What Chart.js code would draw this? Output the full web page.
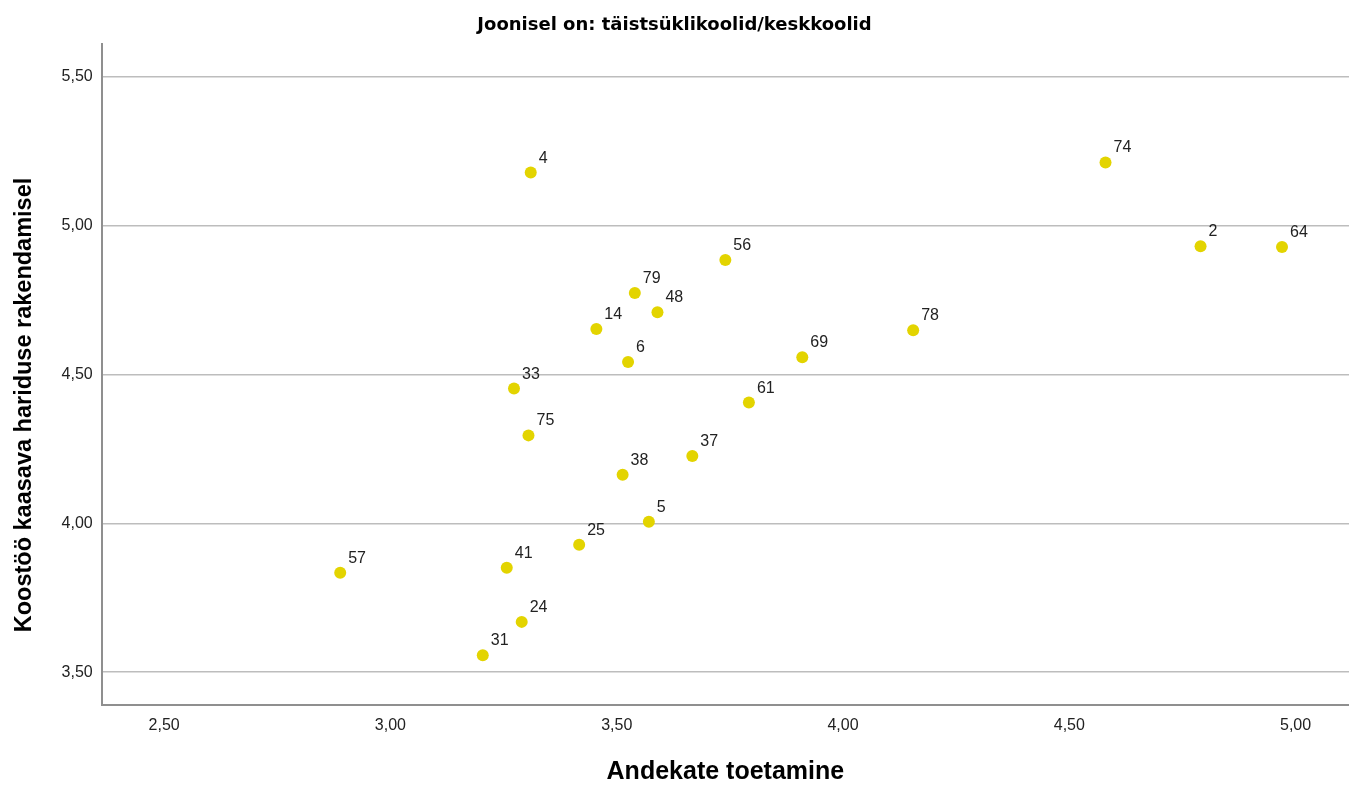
<!DOCTYPE html>
<html>
<head>
<meta charset="utf-8">
<script src="https://cdn.jsdelivr.net/npm/chart.js@4.4.0/dist/chart.umd.min.js"></script>
<style>
  html, body { margin: 0; padding: 0; background: #fff; }
  #wrap { width: 1349px; height: 786px; position: relative; }
</style>
</head>
<body>
<div id="wrap"><canvas id="scatter"></canvas></div>
<script>
// texts
const chartTitle = 'Joonisel on: täistsüklikoolid/keskkoolid';
const xTitle = 'Andekate toetamine';
const yTitle = 'Koostöö kaasava hariduse rakendamisel';

// one entry per school
const schoolIds = [4, 74, 2, 64, 56, 79, 48, 14, 78, 6, 69, 33, 61, 75, 37, 38, 5, 25, 57, 41, 24, 31];
const andekate  = [3.31, 4.58, 4.79, 4.97, 3.74, 3.54, 3.59, 3.455, 4.155, 3.525, 3.91, 3.273, 3.792, 3.305, 3.667, 3.513, 3.571, 3.417, 2.889, 3.257, 3.29, 3.204];
const koostoo   = [5.177, 5.211, 4.93, 4.927, 4.884, 4.773, 4.708, 4.652, 4.648, 4.541, 4.557, 4.452, 4.405, 4.295, 4.226, 4.163, 4.005, 3.928, 3.834, 3.851, 3.669, 3.557];

// axes
const xTicks = [2.5, 3, 3.5, 4, 4.5, 5];
const yTicks = [3.5, 4, 4.5, 5, 5.5];
const xRange = [2.362, 5.118];
const yRange = [3.39, 5.61];

const pointColor = '#e3d400';
const labelFont = '"Liberation Sans", Arial, sans-serif';

const fmt = v => Number(v).toFixed(2).replace('.', ',');

// school number next to each dot
const pointLabels = {
  id: 'pointLabels',
  afterDatasetsDraw(chart) {
    const ctx = chart.ctx;
    const meta = chart.getDatasetMeta(0);
    ctx.save();
    ctx.font = '16px ' + labelFont;
    ctx.fillStyle = '#222';
    ctx.textAlign = 'left';
    ctx.textBaseline = 'alphabetic';
    meta.data.forEach((pt, i) => {
      ctx.fillText(String(schoolIds[i]), pt.x + 8, pt.y - 10);
    });
    ctx.restore();
  }
};

// vertical axis title, sits a bit lower than the plot centre
const yAxisTitle = {
  id: 'yAxisTitle',
  afterDraw(chart) {
    const ctx = chart.ctx;
    ctx.save();
    ctx.translate(25, 405);
    ctx.rotate(-Math.PI / 2);
    ctx.font = 'bold 23.5px ' + labelFont;
    ctx.fillStyle = '#000';
    ctx.textAlign = 'center';
    ctx.textBaseline = 'middle';
    ctx.fillText(yTitle, 0, 0);
    ctx.restore();
  }
};

const ctx = document.getElementById('scatter');
window.myScatter = new Chart(ctx, {
  type: 'scatter',
  data: {
    datasets: [{
      data: schoolIds.map((id, i) => ({ x: andekate[i], y: koostoo[i] })),
      backgroundColor: pointColor,
      borderWidth: 0,
      pointRadius: 6,
      pointHoverRadius: 6
    }]
  },
  options: {
    responsive: true,
    maintainAspectRatio: false,
    animation: false,
    events: [],
    layout: { padding: 0, autoPadding: false },
    plugins: {
      legend: { display: false },
      tooltip: { enabled: false },
      title: {
        display: true,
        text: chartTitle,
        color: '#000',
        font: { family: '"DejaVu Sans", sans-serif', size: 18, weight: 'bold', lineHeight: 1.2 },
        padding: { top: 15, bottom: 7 }
      }
    },
    scales: {
      x: {
        type: 'linear',
        min: xRange[0],
        max: xRange[1],
        afterBuildTicks: s => { s.ticks = xTicks.map(v => ({ value: v })); },
        afterFit: s => { s.height = 81; s.paddingLeft = 0; s.paddingRight = 0; },
        grid: { display: false, drawTicks: false },
        border: { display: true, color: '#8f8f8f', width: 2 },
        ticks: { padding: 11, color: '#222', font: { family: labelFont, size: 16 }, callback: v => fmt(v) },
        title: {
          display: true,
          text: xTitle,
          color: '#000',
          font: { family: labelFont, size: 25, weight: 'bold', lineHeight: 1 },
          padding: { top: 0, bottom: 1 }
        }
      },
      y: {
        type: 'linear',
        min: yRange[0],
        max: yRange[1],
        afterBuildTicks: s => { s.ticks = yTicks.map(v => ({ value: v })); },
        afterFit: s => { s.width = 101.7; },
        grid: { color: '#bdbdbd', lineWidth: 1.5, drawTicks: false },
        border: { display: true, color: '#8f8f8f', width: 2 },
        ticks: { padding: 9, color: '#222', font: { family: labelFont, size: 16 }, callback: v => fmt(v) }
      }
    }
  },
  plugins: [pointLabels, yAxisTitle]
});
</script>
</body>
</html>
